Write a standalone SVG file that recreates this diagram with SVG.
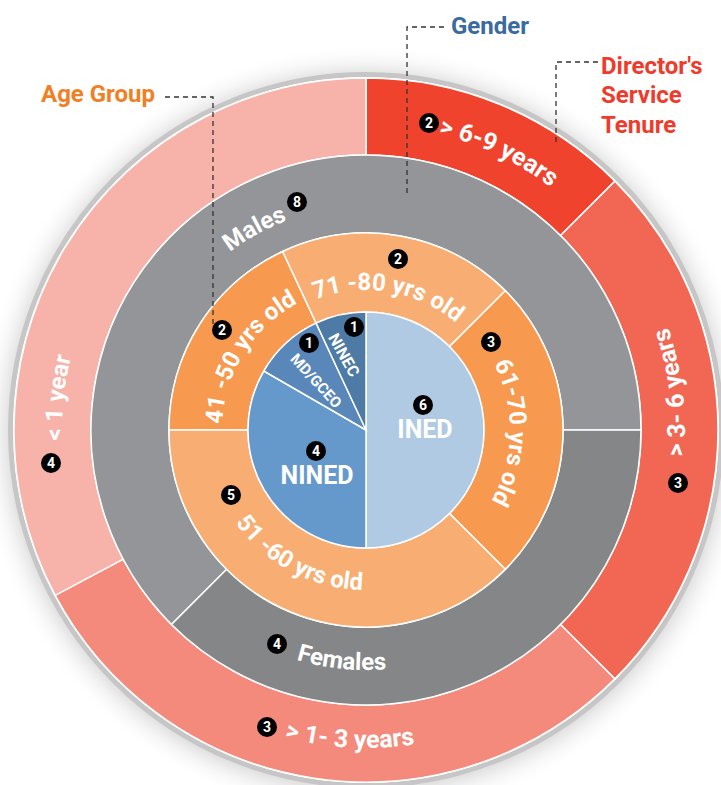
<svg xmlns="http://www.w3.org/2000/svg" width="721" height="785" viewBox="0 0 721 785">
<style>
.lbl{font-family:Roboto,"Liberation Sans",sans-serif;font-weight:700;fill:#fff}
.ttl{font-family:Roboto,"Liberation Sans",sans-serif;font-weight:700;font-size:24px}
.seg{stroke:#fff;stroke-width:1.5}
.bd circle{fill:#000}
.bd text{font-family:Roboto,"Liberation Sans",sans-serif;font-weight:700;font-size:14px;fill:#fff;text-anchor:middle}
.lead{fill:none;stroke:#333;stroke-width:1.3;stroke-dasharray:5 4}
</style>
<defs>
<filter id="sh" x="-20%" y="-20%" width="140%" height="140%"><feGaussianBlur stdDeviation="14"/></filter>
<path id="p69" d="M342.1,125.9 A305,305 0 0 1 617.4,257.2"/>
<path id="pMal" d="M174,314.6 A224,224 0 0 1 369.9,206.0"/>
<path id="p7180" d="M275.1,323.5 A140,140 0 0 1 486.6,358.9"/>
<path id="p4150" d="M229,474.5 A144,144 0 0 1 346,287.4"/>
<path id="p6170" d="M460.5,321.3 A144,144 0 0 1 456.6,541.9"/>
<path id="p5160" d="M209.5,463.3 A160,160 0 0 0 425.9,578.4"/>
<path id="pFem" d="M224.9,624.2 A240,240 0 0 0 463.6,649.2"/>
<path id="p13" d="M192.8,696.7 A318,318 0 0 0 510.4,713.3"/>
<path id="p36" d="M659.6,554.6 A319,319 0 0 0 620.8,238.0"/>
<path id="p1" d="M88.3,553.6 A304,304 0 0 1 120.1,251.3"/>
</defs>
<rect width="721" height="785" fill="#fff"/>
<circle cx="366" cy="432" r="358" fill="#000" opacity="0.22" filter="url(#sh)"/>
<circle cx="366" cy="430" r="355.5" fill="#fff" stroke="#c6c6c6" stroke-width="5"/>

<g id="tenure">
<g id="t69"><path class="seg" fill="#ef432e" d="M366,78 A352,352 0 0 1 614.9,181.1 L560.5,235.5 A275,275 0 0 0 366,155 Z"/>
<text class="lbl" font-size="25"><textPath href="#p69" startOffset="50%" text-anchor="middle">&gt; 6-9 years</textPath></text></g>
<g id="t36"><path class="seg" fill="#f26754" d="M614.9,181.1 A352,352 0 0 1 614.9,678.9 L560.5,624.5 A275,275 0 0 0 560.5,235.5 Z"/>
<text class="lbl" font-size="25"><textPath href="#p36" startOffset="50%" text-anchor="middle">&gt; 3- 6 years</textPath></text></g>
<g id="t13"><path class="seg" fill="#f48a7c" d="M614.9,678.9 A352,352 0 0 1 55.2,595.3 L123.2,559.1 A275,275 0 0 0 560.5,624.5 Z"/>
<text class="lbl" font-size="25"><textPath href="#p13" startOffset="50%" text-anchor="middle">&gt; 1- 3 years</textPath></text></g>
<g id="t1"><path class="seg" fill="#f7b2a9" d="M55.2,595.3 A352,352 0 0 1 366,78 L366,155 A275,275 0 0 0 123.2,559.1 Z"/>
<text class="lbl" font-size="24"><textPath href="#p1" startOffset="50%" text-anchor="middle">&lt; 1 year</textPath></text></g>
</g>

<g id="gender">
<g id="males"><path class="seg" fill="#939598" d="M171.5,624.5 A275,275 0 1 1 641,430 L563,430 A197,197 0 1 0 226.7,569.3 Z"/>
<text class="lbl" font-size="24"><textPath href="#pMal" startOffset="50%" text-anchor="middle">Males</textPath></text></g>
<g id="females"><path class="seg" fill="#858688" d="M641,430 A275,275 0 0 1 171.5,624.5 L226.7,569.3 A197,197 0 0 0 563,430 Z"/>
<text class="lbl" font-size="24"><textPath href="#pFem" startOffset="50%" text-anchor="middle">Females</textPath></text></g>
</g>

<g id="age">
<g id="a4150"><path class="seg" fill="#f7994e" d="M169,430 A197,197 0 0 1 282.7,251.5 L316.1,323.1 A118,118 0 0 0 248,430 Z"/>
<text class="lbl" font-size="24"><textPath href="#p4150" startOffset="50%" text-anchor="middle">41 -50 yrs old</textPath></text></g>
<g id="a7180"><path class="seg" fill="#f8ae72" d="M282.7,251.5 A197,197 0 0 1 505.3,290.7 L449.4,346.6 A118,118 0 0 0 316.1,323.1 Z"/>
<text class="lbl" font-size="24"><textPath href="#p7180" startOffset="50%" text-anchor="middle">71 -80 yrs old</textPath></text></g>
<g id="a6170"><path class="seg" fill="#f7994e" d="M505.3,290.7 A197,197 0 0 1 505.3,569.3 L449.4,513.4 A118,118 0 0 0 449.4,346.6 Z"/>
<text class="lbl" font-size="24"><textPath href="#p6170" startOffset="50%" text-anchor="middle">61-70 yrs old</textPath></text></g>
<g id="a5160"><path class="seg" fill="#f8ae72" d="M505.3,569.3 A197,197 0 0 1 169,430 L248,430 A118,118 0 0 0 449.4,513.4 Z"/>
<text class="lbl" font-size="24"><textPath href="#p5160" startOffset="50%" text-anchor="middle">51 -60 yrs old</textPath></text></g>
</g>

<g id="board">
<g id="ined"><path class="seg" fill="#b0cae3" d="M366,430 L366,312 A118,118 0 0 1 366,548 Z"/>
<text class="lbl" font-size="25" x="425" y="438" text-anchor="middle">INED</text></g>
<g id="nined"><path class="seg" fill="#6699cb" d="M366,430 L366,548 A118,118 0 0 1 263.8,371 Z"/>
<text class="lbl" font-size="25" x="317" y="484" text-anchor="middle">NINED</text></g>
<g id="mdgceo"><path class="seg" fill="#5a87b9" d="M366,430 L263.8,371 A118,118 0 0 1 316.1,323.1 Z"/>
<text class="lbl" font-size="15" text-anchor="middle" transform="translate(316,381) rotate(47.5)" y="5">MD/GCEO</text></g>
<g id="ninec"><path class="seg" fill="#4e7aa6" d="M366,430 L316.1,323.1 A118,118 0 0 1 366,312 Z"/>
<text class="lbl" font-size="16" text-anchor="middle" transform="translate(344,355) rotate(61)" y="5.5">NINEC</text></g>
</g>

<g id="badges">
<g class="bd"><circle cx="429" cy="123" r="10"/><text x="429" y="128">2</text></g>
<g class="bd"><circle cx="297" cy="202" r="10"/><text x="297" y="207">8</text></g>
<g class="bd"><circle cx="398" cy="259" r="10"/><text x="398" y="264">2</text></g>
<g class="bd"><circle cx="222" cy="330" r="10"/><text x="222" y="335">2</text></g>
<g class="bd"><circle cx="309" cy="343" r="10"/><text x="309" y="348">1</text></g>
<g class="bd"><circle cx="354" cy="327" r="10"/><text x="354" y="332">1</text></g>
<g class="bd"><circle cx="423" cy="405" r="10"/><text x="423" y="410">6</text></g>
<g class="bd"><circle cx="316" cy="451" r="10"/><text x="316" y="456">4</text></g>
<g class="bd"><circle cx="491" cy="342" r="10"/><text x="491" y="347">3</text></g>
<g class="bd"><circle cx="231" cy="495" r="10"/><text x="231" y="500">5</text></g>
<g class="bd"><circle cx="678" cy="483" r="10"/><text x="678" y="488">3</text></g>
<g class="bd"><circle cx="51" cy="463" r="10"/><text x="51" y="468">4</text></g>
<g class="bd"><circle cx="277" cy="644" r="10"/><text x="277" y="649">4</text></g>
<g class="bd"><circle cx="267" cy="727" r="10"/><text x="267" y="732">3</text></g>
</g>

<g id="connectors">
<path class="lead" d="M444,27 H407 V197"/>
<path class="lead" d="M165,97 H213 V326"/>
<path class="lead" d="M598,62 H556 V145"/>
</g>

<g id="titles">
<text class="ttl" x="451" y="34" fill="#3a6aa0">Gender</text>
<text class="ttl" x="41" y="102" fill="#f07f25">Age Group</text>
<text class="ttl" x="601" y="74" fill="#ee3b2b">Director's</text>
<text class="ttl" x="601" y="103" fill="#ee3b2b">Service</text>
<text class="ttl" x="601" y="133" fill="#ee3b2b">Tenure</text>
</g>
</svg>
